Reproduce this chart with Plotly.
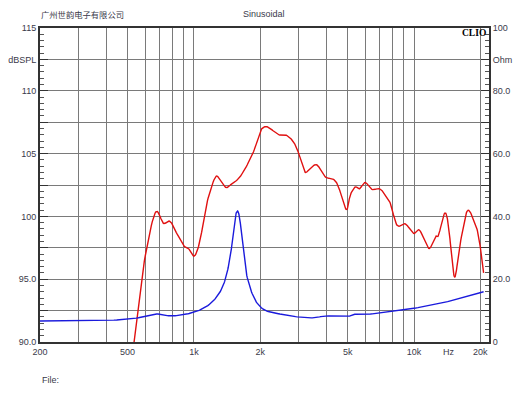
import plotly.graph_objects as go
import numpy as np

# SPL curve (dB)
spl_freq = [535, 590, 666, 727, 780, 836, 896, 944, 1005, 1067, 1145, 1249, 1316, 1400, 1487, 1594, 1709, 1866, 2000, 2108, 2220, 2425, 2598, 2787, 2937, 3097, 3204, 3375, 3622, 3949, 4307, 4540, 4920, 5130, 5405, 5657, 5997, 6437, 6974, 7398, 7800, 8367, 9127, 9952, 10600, 11650, 12480, 12920, 13770, 14350, 15240, 16110, 17400, 18660, 19650, 20700]
spl_db = [90.0, 96.0, 100.25, 99.45, 99.6, 98.65, 97.7, 97.45, 96.85, 98.1, 101.05, 103.1, 102.9, 102.3, 102.6, 103.0, 103.8, 105.15, 106.75, 107.15, 107.0, 106.5, 106.5, 106.1, 105.4, 104.2, 103.5, 103.8, 104.1, 103.15, 102.95, 102.35, 100.55, 101.7, 102.35, 102.2, 102.7, 102.15, 102.2, 101.7, 101.05, 99.3, 99.4, 98.65, 98.9, 97.45, 98.4, 98.5, 100.25, 99.2, 95.2, 97.6, 100.4, 99.7, 98.4, 95.5]

# Impedance curve (Ohm)
imp_freq = [200, 375, 535, 666, 788, 928, 1067, 1200, 1316, 1400, 1470, 1520, 1565, 1610, 1665, 1730, 1866, 2069, 2458, 3043, 3490, 4012, 4965, 5330, 6130, 7800, 9950, 13150, 15100, 17400, 20700]
imp_ohm = [6.7, 6.8, 7.5, 8.9, 8.3, 8.9, 10.2, 12.5, 16.0, 20.8, 28.2, 36.7, 41.5, 39.9, 31.4, 21.9, 14.4, 10.4, 8.9, 7.9, 7.7, 8.3, 8.1, 8.8, 8.8, 9.7, 10.7, 12.3, 13.4, 14.6, 16.0]

x_grid = [200, 300, 400, 500, 600, 700, 800, 900, 1000, 2000, 3000, 4000, 5000, 6000, 7000, 8000, 9000, 10000, 20000]
x_labels = {200: "200", 500: "500", 1000: "1k", 2000: "2k", 5000: "5k", 10000: "10k", 20000: "20k"}
y_vals = [90, 92.5, 95, 97.5, 100, 102.5, 105, 107.5, 110, 112.5, 115]
y_text = ["90.0", "", "95.0", "", "100", "", "105", "", "110", "dBSPL", "115"]
y2_vals = [0, 10, 20, 30, 40, 50, 60, 70, 80, 90, 100]
y2_text = ["0", "", "20.0", "", "40.0", "", "60.0", "", "80.0", "Ohm", "100"]

def smooth(fx, fy):
    lx = np.log10(fx)
    pts = np.array(list(zip(lx, fy)))
    out = []
    P = np.vstack([pts[0], pts, pts[-1]])
    for i in range(1, len(P) - 2):
        p0, p1, p2, p3 = P[i-1], P[i], P[i+1], P[i+2]
        for t in np.linspace(0, 1, 12, endpoint=False):
            t2, t3 = t*t, t*t*t
            pt = 0.5*((2*p1) + (-p0+p2)*t + (2*p0-5*p1+4*p2-p3)*t2 + (-p0+3*p1-3*p2+p3)*t3)
            out.append(pt)
    out.append(pts[-1])
    out = np.array(out)
    return 10**out[:, 0], out[:, 1]

sx, sy = smooth(spl_freq, spl_db)
ix, iy = smooth(imp_freq, imp_ohm)

OFF = 8  # default page body margin
L, R, T, B = 40 - OFF, 489 - OFF, 28 - OFF, 342 - OFF
W, H = 530 - OFF, 398 - OFF

fig = go.Figure()
fig.add_trace(go.Scatter(x=ix, y=iy, mode="lines", line=dict(color="#1a1adc", width=1.4),
                         yaxis="y2", hoverinfo="skip"))
fig.add_trace(go.Scatter(x=sx, y=sy, mode="lines", line=dict(color="#e01010", width=1.4),
                         hoverinfo="skip"))

font = dict(family="Liberation Sans, Arial, sans-serif", size=9, color="#3a3a4a")
fig.update_layout(
    width=W, height=H,
    margin=dict(l=L, r=W-R, t=T, b=H-B, autoexpand=False),
    paper_bgcolor="white", plot_bgcolor="white",
    showlegend=False,
    font=font,
    xaxis=dict(type="log", range=[np.log10(200), np.log10(21900)],
               tickmode="array", tickvals=x_grid,
               ticktext=[x_labels.get(v, "") for v in x_grid],
               showgrid=True, gridcolor="#7a7a7a", gridwidth=1,
               showline=True, linecolor="#333", linewidth=2, mirror=True,
               ticks="", zeroline=False, tickfont=font, automargin=False),
    yaxis=dict(range=[90, 115], tickmode="array", tickvals=y_vals, ticktext=y_text,
               showgrid=True, gridcolor="#7a7a7a", gridwidth=1,
               showline=True, linecolor="#333", linewidth=2, mirror=False,
               ticks="inside", ticklen=8, tickcolor="#333",
               minor=dict(dtick=0.5, ticks="inside", ticklen=4, tickcolor="#555", showgrid=False),
               zeroline=False, tickfont=font, automargin=False),
    yaxis2=dict(range=[0, 100], overlaying="y", side="right", tickmode="array",
                tickvals=y2_vals, ticktext=y2_text, showgrid=False,
                showline=True, linecolor="#333", linewidth=2,
                ticks="inside", ticklen=8, tickcolor="#333",
                minor=dict(dtick=2, ticks="inside", ticklen=4, tickcolor="#555"),
                zeroline=False, tickfont=font, automargin=False),
)

def px(x):
    return (x - OFF - L) / (R - L)

def py(y):
    return (B - (y - OFF)) / (B - T)

anns = [
    dict(text="广州世韵电子有限公司", x=px(39), y=py(14), xanchor="left",
         font=dict(family="Noto Sans CJK SC, sans-serif", size=8.3, color="#3a3a4a")),
    dict(text="Sinusoidal", x=px(264), y=py(14), xanchor="center",
         font=dict(family="Liberation Sans, Arial, sans-serif", size=9, color="#3a3a4a")),
    dict(text="File:", x=px(40), y=py(380), xanchor="left",
         font=dict(family="Liberation Sans, Arial, sans-serif", size=9, color="#3a3a4a")),
    dict(text="Hz", x=px(449), y=py(352), xanchor="center",
         font=dict(family="Liberation Sans, Arial, sans-serif", size=9, color="#3a3a4a")),
]
for a in anns:
    fig.add_annotation(xref="paper", yref="paper", yanchor="middle", showarrow=False, **a)
fig.add_annotation(text="<b>CLIO</b>", xref="paper", yref="paper", x=px(488), y=py(33),
                   xanchor="right", yanchor="middle", showarrow=False,
                   font=dict(family="Liberation Serif, serif", size=9.5, color="black"))
fig.write_html("out.html")
